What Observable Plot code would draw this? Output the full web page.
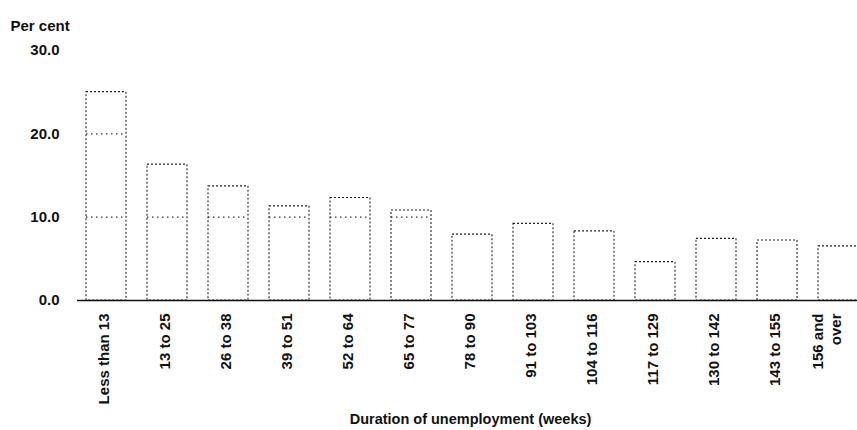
<!DOCTYPE html>
<html><head><meta charset="utf-8">
<script src="https://cdn.jsdelivr.net/npm/d3@7"></script>
<script src="https://cdn.jsdelivr.net/npm/@observablehq/plot@0.6"></script>
<style>body{margin:0;background:#fff}</style>
</head><body><div id="chart"></div>
<script>
const categories = ["Less than 13","13 to 25","26 to 38","39 to 51","52 to 64","65 to 77","78 to 90","91 to 103","104 to 116","117 to 129","130 to 142","143 to 155","156 and\nover"];
const values = [25.0,16.3,13.7,11.3,12.3,10.8,7.9,9.2,8.3,4.6,7.4,7.2,6.5];
const yTicks = [0,10,20,30];
const yLabel = "Per cent";
const xLabel = "Duration of unemployment (weeks)";

const data = categories.map((c,i)=>({category:c, value: values[i]}));
const grid = data.flatMap(d => yTicks.filter(t => t > 0 && t < d.value).map(t => ({category: d.category, value: t})));

const chart = Plot.plot({
  width: 857, height: 430,
  marginTop: 50, marginBottom: 130, marginLeft: 77, marginRight: 0,
  style: {fontFamily: "'Liberation Sans', Arial, sans-serif", fontSize: "15px", fontWeight: "bold", color: "#111", background: "#fff"},
  x: {domain: categories, range: [77, 866], paddingInner: 0.35, paddingOuter: 0.1, axis: null},
  y: {domain: [0, 30], ticks: yTicks, tickFormat: d => d.toFixed(1), tickSize: 0, tickPadding: 18, label: null},
  marks: [
    Plot.barY(data, {x: "category", y: "value", fill: "white", stroke: "#222", strokeWidth: 1.1, strokeDasharray: "2,2"}),
    Plot.tickY(grid, {x: "category", y: "value", stroke: "#333", strokeWidth: 1.1, strokeDasharray: "1.5,3.5"}),
    Plot.ruleY([0], {stroke: "#111", strokeWidth: 1.6}),
    Plot.text(categories, {x: d => d, frameAnchor: "bottom", rotate: -90, textAnchor: "end", dy: 13, dx: 2, lineHeight: 1.2, fontSize: 15, fill: "#111"}),
    Plot.text([yLabel], {frameAnchor: "top-left", textAnchor: "start", dx: -67, dy: -30, fontSize: 15, fill: "#111"}),
    Plot.text([xLabel], {frameAnchor: "bottom", dy: 123, dx: 3, fontSize: 14.5, fill: "#111"})
  ]
});
document.getElementById("chart").appendChild(chart);
</script>
</body></html>
